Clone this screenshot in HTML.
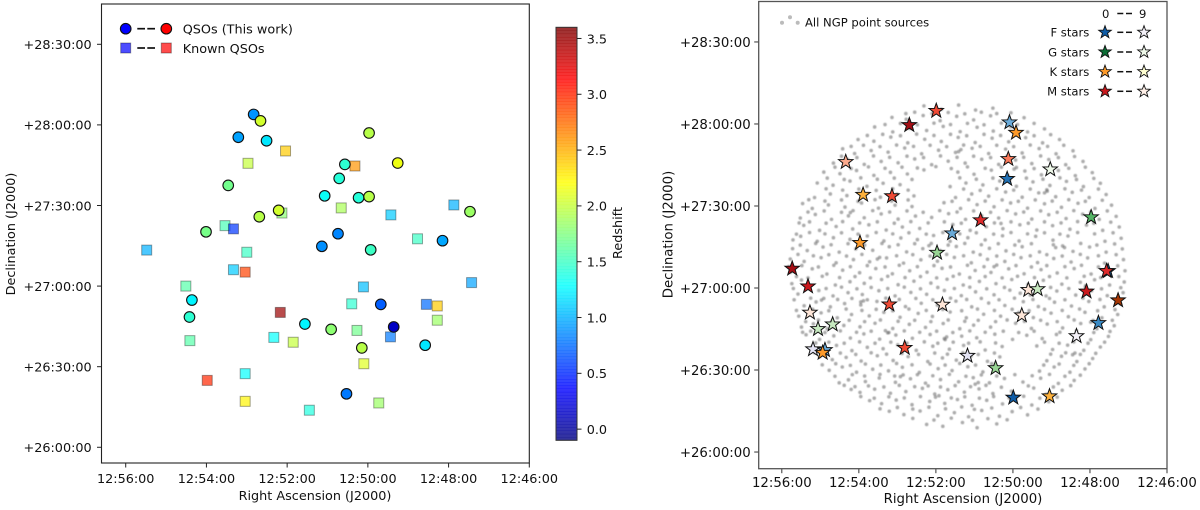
<!DOCTYPE html>
<html>
<head>
<meta charset="utf-8">
<title>QSO and star fields</title>
<style>
html,body{margin:0;padding:0;background:#fff;width:1200px;height:510px;overflow:hidden}
svg{display:block}
text{font-family:"DejaVu Sans","Liberation Sans",sans-serif;fill:#111}
.l{font-size:12.8px}
.r{font-size:13.3px}
.s{font-size:11.6px}
</style>
</head>
<body>
<svg id="figure" width="1200" height="510" viewBox="0 0 1200 510" xmlns="http://www.w3.org/2000/svg">
  <defs><filter id="soft" x="-5%" y="-5%" width="110%" height="110%"><feGaussianBlur stdDeviation="0.45"/></filter></defs>
  <g id="left-ticks"></g>
  <g id="left-squares"></g>
  <g id="left-circles"></g>
  <rect x="101.5" y="4" width="427.8" height="459" fill="none" stroke="#222" stroke-width="1.1"/>
  <text class="l" x="315" y="500" text-anchor="middle">Right Ascension (J2000)</text>
  <text class="l" transform="translate(15,234) rotate(-90)" text-anchor="middle">Declination (J2000)</text>

  <g>
    <circle cx="125.7" cy="28.7" r="5.3" fill="#0000ff" stroke="#111" stroke-width="1.1"/>
    <line x1="137.3" x2="145" y1="28.7" y2="28.7" stroke="#111" stroke-width="1.7"/>
    <line x1="147.3" x2="155" y1="28.7" y2="28.7" stroke="#111" stroke-width="1.7"/>
    <circle cx="166.3" cy="28.7" r="5.3" fill="#ff0000" stroke="#111" stroke-width="1.1"/>
    <text class="l" x="182.7" y="33.5">QSOs (This work)</text>
    <rect x="120.7" y="43" width="10" height="10" fill="#0000ff" fill-opacity=".7" stroke="#000" stroke-opacity=".35"/>
    <line x1="137.3" x2="145" y1="48" y2="48" stroke="#111" stroke-width="1.7"/>
    <line x1="147.3" x2="155" y1="48" y2="48" stroke="#111" stroke-width="1.7"/>
    <rect x="161.3" y="43" width="10" height="10" fill="#ff0000" fill-opacity=".7" stroke="#000" stroke-opacity=".35"/>
    <text class="l" x="182.7" y="52.8">Known QSOs</text>
  </g>

  <g id="colorbar"></g>
  <text class="l" transform="translate(622,233) rotate(-90)" text-anchor="middle">Redshift</text>

  <g id="right-ticks"></g>
  <g id="ngp-points" filter="url(#soft)"></g>
  <g id="stars"></g>
  <rect x="758.7" y="1.5" width="408.3" height="467.2" fill="none" stroke="#555" stroke-width="1.3"/>
  <text class="r" x="963" y="503" text-anchor="middle">Right Ascension (J2000)</text>
  <text class="r" transform="translate(672.5,234.5) rotate(-90)" text-anchor="middle">Declination (J2000)</text>

  <g id="right-legend">
    <circle cx="782" cy="22.7" r="2" fill="#bbb"/>
    <circle cx="790" cy="17.3" r="2" fill="#bbb"/>
    <circle cx="797.7" cy="22.7" r="2" fill="#bbb"/>
    <text class="s" x="805" y="26.5">All NGP point sources</text>
    <text class="s" x="1105.7" y="18" text-anchor="middle">0</text>
    <line x1="1117.3" x2="1123.3" y1="13.5" y2="13.5" stroke="#111" stroke-width="1.5"/>
    <line x1="1126" x2="1132" y1="13.5" y2="13.5" stroke="#111" stroke-width="1.5"/>
    <text class="s" x="1142.7" y="18" text-anchor="middle">9</text>
  </g>
</svg>

<script>
// ---------- Left panel data: [RA minutes after 12h, Dec arcmin above +26 deg, redshift]
const newQsos = [
[52.83,123.9,0.9],[52.66,121.5,2.05],[53.21,115.4,0.95],[52.51,114.1,1.2],[53.46,97.5,1.7],
[51.07,93.6,1.32],[50.71,100.1,1.42],[52.21,88.2,2.05],[52.69,85.8,1.95],[54.01,80.2,1.72],
[51.14,74.8,0.88],[54.36,54.8,1.25],[54.42,48.5,1.45],[51.56,45.9,1.25],[50.91,43.9,1.8],
[49.97,117.0,1.95],[50.57,105.3,1.45],[49.26,105.8,2.15],[50.23,92.9,1.42],[49.97,93.3,1.95],
[47.47,87.7,1.85],[50.74,79.5,0.85],[48.15,76.9,0.97],[49.93,73.5,1.5],[49.68,53.2,0.7],
[49.36,44.8,0.15],[48.58,38.0,1.2],[50.15,37.0,1.95],[50.53,19.9,0.8]
];
const knownQsos = [
[52.04,110.3,2.4],[52.97,105.7,2.0],[52.13,87.2,1.8],[53.54,82.5,1.55],[53.33,81.3,0.55],
[50.66,89.1,1.9],[55.48,73.4,1.0],[53.0,72.6,1.5],[53.33,66.1,1.1],[53.04,65.2,2.9],
[54.51,60.0,1.6],[52.17,50.2,3.5],[52.33,40.9,1.3],[51.85,39.1,2.0],[54.41,39.7,1.6],
[53.98,24.9,3.0],[53.04,27.4,1.3],[53.04,17.1,2.25],[51.45,13.8,1.4],[50.32,104.7,2.6],
[47.87,90.2,1.0],[49.43,86.5,1.1],[48.77,77.6,1.5],[50.11,59.7,1.05],[50.40,53.4,1.45],
[48.55,53.2,0.75],[48.28,52.6,2.4],[47.43,61.3,0.95],[48.28,47.3,1.85],[50.27,43.5,1.7],
[49.44,41.1,0.8],[50.10,31.1,2.1],[49.73,16.5,1.85]
];
const raTicks = [56,54,52,50,48,46];
const raTickLabels = ['12:56:00','12:54:00','12:52:00','12:50:00','12:48:00','12:46:00'];
const decTicks = [150,120,90,60,30,0];
const decTickLabels = ['+28:30:00','+28:00:00','+27:30:00','+27:00:00','+26:30:00','+26:00:00'];
const zTicks = [0,0.5,1,1.5,2,2.5,3,3.5];
const zTickLabels = ['0.0','0.5','1.0','1.5','2.0','2.5','3.0','3.5'];
const zDomain = [-0.1,3.6];

// ---------- Right panel data: [RA min, Dec arcmin, type, subclass]
const starTypes = ['F','G','K','M'];
const stellarSources = [
[51.99,124.8,'M',3],[52.69,119.6,'M',0],[54.34,106.1,'M',6],[53.89,94.1,'K',3],[53.14,93.6,'M',3],
[51.58,80.0,'F',4],[53.97,76.5,'K',2],[51.97,72.9,'G',6],[50.09,120.6,'F',4],[49.92,116.8,'K',2],
[50.12,107.2,'M',5],[50.15,99.9,'F',2],[49.03,103.4,'G',9],[47.97,85.9,'G',4],[50.84,84.8,'M',2],
[55.73,67.1,'M',0],[55.32,60.6,'M',1],[55.27,51.0,'M',8],[55.06,45.0,'G',7],[54.68,46.7,'G',7],
[55.19,37.6,'F',8],[54.88,37.3,'F',4],[54.94,36.3,'K',2],[53.21,54.0,'M',3],[52.81,38.1,'M',3],
[51.83,53.9,'M',8],[51.18,35.2,'F',8],[47.53,66.2,'F',1],[47.57,66.2,'M',2],[48.09,58.7,'M',1],
[47.27,55.5,'K',0],[47.78,47.2,'F',3],[48.35,42.4,'F',9],[49.60,59.3,'M',8],[49.36,59.6,'G',7],
[49.77,50.0,'M',8],[50.45,30.7,'G',6],[49.99,19.9,'F',1],[49.05,20.4,'K',3]
];
const legendTypes = ['F','G','K','M'];
const legendLabels = ['F stars','G stars','K stars','M stars'];
const legendLowSubclass = [1,1,2,1];
const legendHighSubclass = [9,9,9,9];

// Sky positions [RA min, Dec arcmin], estimated from the field's texture
const ngpSources = [
[50.42,10.3],[50.93,8.9],[51.31,10.8],[51.82,9.4],[52.24,10.1],
[49.62,13.6],[50.02,14.8],[50.35,13.1],[50.81,15.2],[51.15,12.9],[51.52,14.4],[51.95,13.3],[52.41,15.0],[52.83,13.7],[53.21,14.9],
[49.07,18.4],[49.51,17.2],[49.93,19.1],[50.27,17.6],[50.68,18.9],[51.06,17.1],[51.44,19.2],[51.77,17.8],[52.16,18.5],[52.62,17.3],[53.03,19.0],[53.41,17.7],[53.72,18.8],
[48.72,22.6],[49.14,21.1],[49.46,23.4],[50.04,22.2],[50.52,21.4],[50.88,23.1],[51.26,21.9],[51.69,22.8],[52.03,21.2],[52.35,23.3],[52.78,22.1],[53.18,21.5],[53.59,23.0],[53.97,21.8],[54.2,22.9],
[48.41,26.2],[48.82,25.1],[49.28,27.0],[49.74,25.6],[50.22,26.9],[50.61,25.3],[51.03,27.2],[51.41,25.7],[51.88,26.5],[52.27,25.2],[52.66,26.8],[53.05,25.5],[53.47,27.1],[53.83,25.8],[54.27,26.4],[54.51,25.3],
[48.13,30.4],[48.52,29.2],[48.93,31.1],[49.31,29.6],[50.44,30.8],[50.78,29.3],[51.17,31.2],[51.58,29.8],[51.94,30.5],[52.43,29.1],[52.87,31.0],[53.23,29.7],[53.64,30.3],[54.06,29.2],[54.43,31.1],[54.77,29.9],
[47.93,34.2],[48.34,33.1],[48.74,35.0],[49.12,33.4],[50.34,34.8],[50.66,33.2],[51.09,35.1],[51.47,33.6],[51.83,34.4],[52.21,33.1],[52.72,34.9],[53.11,33.5],[53.52,35.2],[53.94,33.3],[54.33,34.6],[54.69,33.8],[55.02,34.9],
[47.73,38.4],[48.16,37.2],[48.58,39.1],[48.97,37.5],[49.38,38.8],[50.28,38.6],[50.72,37.3],[51.28,39.0],[51.65,37.6],[52.08,38.7],[52.51,37.2],[52.99,39.2],[53.37,37.8],[53.78,38.3],[54.18,37.1],[54.58,39.0],[54.95,37.9],[55.21,38.6],
[47.52,42.3],[47.98,41.1],[48.87,43.0],[49.24,41.5],[49.64,42.7],[50.01,41.2],[50.47,43.1],[50.94,41.8],[51.33,42.4],[51.76,41.1],[52.15,43.0],[52.61,41.6],[53.04,42.8],[53.46,41.3],[53.87,43.2],[54.22,41.7],[54.65,42.5],[55.02,41.2],[55.37,42.9],
[47.37,46.2],[47.82,45.1],[48.24,47.0],[48.71,45.4],[49.11,46.8],[49.52,45.2],[49.93,47.1],[50.58,45.7],[51.02,46.4],[51.38,45.1],[51.81,47.0],[52.27,45.6],[52.69,46.7],[53.12,45.2],[53.58,47.1],[53.97,45.8],[54.39,46.3],[54.82,45.1],[55.18,46.9],[55.49,45.7],
[47.28,50.3],[47.69,49.1],[48.13,51.1],[48.56,49.5],[49.01,50.8],[49.47,49.2],[49.85,51.0],[50.32,49.7],[50.76,50.4],[51.21,49.1],[51.63,51.2],[52.09,49.6],[52.46,50.7],[52.93,49.3],[53.35,51.1],[53.73,49.8],[54.19,50.3],[54.56,49.1],[54.98,50.9],[55.56,49.7],
[47.21,54.2],[47.63,53.1],[48.03,55.1],[48.48,53.4],[48.92,54.8],[49.34,53.2],[49.73,55.0],[50.21,53.6],[50.63,54.5],[51.07,53.1],[51.48,55.2],[51.96,53.7],[52.38,54.4],[52.79,53.2],[53.53,55.1],[53.95,53.8],[54.37,54.3],[54.74,53.1],[55.11,54.9],[55.42,53.5],
[47.14,58.3],[47.55,57.2],[47.96,59.0],[48.37,57.4],[48.86,58.9],[49.14,57.1],[50.08,59.2],[50.49,57.5],[50.97,58.6],[51.34,57.2],[51.78,59.1],[52.24,57.7],[52.65,58.4],[53.06,57.1],[53.48,59.0],[53.91,57.6],[54.28,58.3],[54.67,57.1],[55.04,59.1],[55.58,57.8],
[47.11,62.2],[47.49,61.1],[47.88,63.0],[48.73,61.4],[49.21,62.8],[49.61,61.2],[50.03,63.1],[50.44,61.6],[50.87,62.4],[51.29,61.1],[51.71,63.2],[52.13,61.8],[52.57,62.5],[52.98,61.2],[53.41,63.1],[53.86,61.7],[54.23,62.3],[54.61,61.1],[55.49,62.9],[55.74,61.6],
[47.09,66.3],[47.97,65.1],[48.41,67.1],[48.85,65.5],[49.27,66.7],[49.71,65.2],[50.11,67.0],[50.57,65.7],[50.98,66.4],[51.39,65.1],[51.84,67.2],[52.23,65.8],[52.68,66.3],[53.13,65.2],[53.56,67.1],[53.98,65.6],[54.42,66.5],[54.83,65.1],[55.21,67.0],[55.77,65.8],
[47.13,70.4],[47.62,69.1],[48.06,71.0],[48.49,69.5],[48.94,70.8],[49.36,69.3],[49.79,71.1],[50.21,69.7],[50.66,70.5],[51.08,69.2],[51.52,71.2],[51.96,69.8],[52.39,70.3],[52.84,69.1],[53.28,71.0],[53.72,69.6],[54.14,70.4],[54.59,69.2],[54.98,71.1],[55.42,69.7],[55.78,70.6],
[47.16,74.3],[47.58,73.1],[48.01,75.0],[48.44,73.4],[48.89,74.8],[49.31,73.2],[49.76,75.1],[50.18,73.6],[50.61,74.5],[51.03,73.1],[51.47,75.2],[51.89,73.7],[52.34,74.4],[52.76,73.2],[53.21,75.1],[53.64,73.8],[54.08,74.3],[54.51,73.1],[54.93,75.0],[55.34,73.7],[55.72,74.4],
[47.19,78.2],[47.61,77.1],[48.57,79.0],[48.96,77.5],[49.41,78.9],[49.84,77.2],[50.27,79.1],[50.72,77.6],[51.17,78.4],[51.63,77.1],[52.06,79.2],[52.48,77.7],[52.91,78.3],[53.35,77.2],[53.78,79.0],[54.23,77.8],[54.66,78.4],[55.08,77.1],[55.51,78.9],[55.71,77.6],
[47.24,82.3],[47.67,81.1],[48.09,83.0],[48.52,81.5],[48.97,82.8],[49.38,81.2],[49.82,83.1],[50.26,81.7],[50.69,82.4],[51.11,81.1],[51.56,83.2],[52.42,81.8],[52.87,82.3],[53.29,81.2],[53.74,83.1],[54.16,81.6],[54.59,82.5],[55.02,81.1],[55.43,82.9],
[47.32,86.2],[47.76,85.1],[48.19,87.0],[48.62,85.4],[49.07,86.8],[49.51,85.2],[49.93,87.1],[50.37,85.6],[50.81,86.4],[51.23,85.1],[51.67,87.2],[52.11,85.8],[52.53,86.3],[52.98,85.2],[53.42,87.1],[53.86,85.7],[54.27,86.4],[54.71,85.1],[55.13,86.9],[55.52,85.6],
[47.44,90.3],[47.87,89.1],[48.31,91.0],[48.74,89.5],[49.18,90.8],[49.62,89.2],[50.06,91.1],[50.49,89.7],[50.93,90.5],[51.36,89.1],[51.79,91.2],[52.62,89.8],[53.06,90.3],[53.49,89.2],[53.93,91.1],[54.36,89.6],[54.79,90.4],[55.21,89.1],[55.46,90.9],
[47.58,94.2],[48.02,93.1],[48.46,95.0],[48.89,93.4],[49.33,94.8],[49.76,93.2],[50.19,95.1],[50.63,93.6],[51.07,94.4],[51.49,93.1],[52.57,93.7],[53.01,94.3],[53.44,93.2],[53.88,95.0],[54.31,93.8],[54.74,94.4],[55.15,93.1],
[47.73,98.3],[48.17,97.1],[48.61,99.0],[49.04,97.5],[49.48,98.8],[49.91,97.2],[50.34,99.1],[50.78,97.7],[51.22,98.4],[51.63,97.1],[52.93,97.8],[53.37,98.3],[53.79,97.2],[54.23,99.1],[54.67,97.6],[55.08,98.4],
[47.94,102.2],[48.38,101.1],[48.82,103.0],[49.26,101.4],[49.69,102.8],[50.13,101.2],[50.56,103.1],[51.01,101.6],[51.43,102.4],[52.31,103.2],[52.74,101.7],[53.18,102.3],[53.61,101.2],[54.06,103.0],[54.49,101.8],[54.91,102.4],
[48.18,106.3],[48.63,105.1],[49.07,107.0],[49.51,105.5],[49.93,106.8],[50.37,105.2],[50.81,107.1],[51.24,105.7],[51.68,106.4],[52.11,105.1],[52.55,107.2],[52.98,105.8],[53.42,106.3],[53.86,105.2],[54.29,107.0],[54.66,105.7],
[48.44,110.2],[48.88,109.1],[49.32,111.0],[49.76,109.4],[50.19,110.8],[50.63,109.2],[51.06,111.1],[51.49,109.6],[51.93,110.4],[52.37,109.1],[52.81,111.2],[53.24,109.7],[53.68,110.3],[54.11,109.2],[54.42,110.9],
[48.79,114.3],[49.23,113.1],[49.67,115.0],[50.11,113.5],[50.54,114.8],[50.98,113.2],[51.42,115.1],[51.86,113.6],[52.29,114.4],[52.73,113.1],[53.17,115.2],[53.61,113.7],[54.02,114.3],
[49.18,118.2],[49.62,117.1],[50.06,119.0],[50.51,117.4],[50.93,118.8],[51.37,117.2],[51.81,119.1],[52.24,117.6],[52.68,118.4],[53.12,117.1],[53.59,118.9],
[49.71,122.3],[50.15,121.1],[50.58,123.0],[51.02,121.5],[51.46,122.8],[51.89,121.2],[52.33,123.1],[52.77,121.7],[53.14,122.4],
[50.52,125.8],[50.97,125.1],[51.41,126.9],[51.86,125.4],[52.31,126.6],
[49.81,58.1],[49.55,57.4],[50.31,83.6],[48.25,62.1],[48.11,60.9],[53.25,43.6],[53.31,44.4],[51.92,20.6],[52.01,20.1],[48.66,74.8],[48.71,75.4],[52.12,76.3],[52.18,75.5],[53.88,55.3],[53.95,54.9],[50.9,25.4],[50.98,24.8],[54.15,88.3],[54.22,87.6],[49.11,95.4],[49.18,94.8],[51.35,110.6],[51.41,109.9],[47.92,48.1],[47.98,47.5],[52.85,28.2],[52.92,27.6],[50.42,68.4],[50.49,67.8],[53.46,71.2],[53.52,70.6],[49.91,104.1],[49.97,103.5],[54.91,56.2],[54.97,55.6],[51.72,42.1],[51.78,41.5],[48.39,36.2],[48.45,35.6]
];
const ngpSourcesMore = [
[50.15,11.8],[50.65,12.2],[51.05,11.6],[51.6,12.4],[52.05,11.7],[52.6,12.3],
[49.35,15.7],[49.8,16.3],[50.55,16.1],[51.0,15.6],[51.33,16.5],[51.75,15.8],[52.18,16.4],[52.6,15.7],[53.0,16.3],[53.45,15.8],
[48.85,20.1],[49.3,19.7],[49.72,20.4],[50.1,19.8],[50.5,20.3],[50.87,19.7],[51.25,20.2],[51.6,19.8],[52.4,20.3],[52.82,19.8],[53.22,20.2],[53.6,19.7],[53.95,20.3],
[48.5,24.3],[48.95,23.8],[49.6,24.2],[50.3,23.7],[50.7,24.4],[51.1,23.9],[51.5,24.3],[51.88,23.8],[52.2,24.2],[52.55,23.9],[52.95,24.4],[53.35,23.8],[53.75,24.2],[54.1,23.9],[54.38,24.4],
[48.25,28.1],[48.65,27.7],[49.05,28.4],[49.5,27.9],[49.95,28.3],[50.42,27.8],[50.82,28.2],[51.22,27.7],[51.65,28.4],[52.08,27.9],[52.48,28.3],[53.07,27.8],[53.45,28.4],[53.85,27.8],[54.17,28.3],[54.62,27.7],
[48.02,32.3],[48.42,31.7],[48.8,32.2],[49.2,31.8],[50.55,32.3],[50.97,31.8],[51.38,32.4],[51.76,31.8],[52.15,32.2],[52.62,31.9],[53.02,32.4],[53.43,31.8],[53.83,32.2],[54.22,31.7],[54.6,32.3],[54.95,31.9],
[47.85,36.1],[48.25,35.7],[48.63,36.3],[49.02,35.8],[50.48,36.2],[50.9,35.7],[51.3,36.3],[51.7,35.8],[52.03,36.2],[52.45,35.7],[52.88,36.1],[53.28,35.8],[53.68,36.3],[54.08,35.7],[54.48,36.2],[54.85,35.8],[55.15,36.3],
[47.62,40.2],[48.05,39.8],[48.42,40.3],[48.8,39.8],[49.18,40.2],[50.45,39.9],[50.85,40.3],[51.15,39.8],[51.55,40.2],[51.95,39.8],[52.3,40.3],[52.75,39.8],[53.17,40.2],[53.58,39.8],[53.98,40.3],[54.38,39.8],[54.78,40.2],[55.12,39.9],
[47.48,44.1],[47.9,43.7],[48.35,44.3],[48.78,43.8],[49.45,44.2],[49.85,43.7],[50.25,44.2],[50.72,43.8],[51.12,44.3],[51.56,43.7],[51.98,44.2],[52.42,43.8],[52.82,44.3],[53.22,43.7],[53.68,44.2],[54.06,43.8],[54.48,44.3],[54.88,43.7],[55.25,44.2],[55.46,43.8],
[47.42,48.2],[47.9,47.8],[48.41,48.3],[48.85,47.7],[49.28,48.2],[49.7,47.8],[50.15,48.3],[50.45,47.7],[50.9,48.2],[51.25,47.8],[51.68,48.3],[52.13,47.7],[52.55,48.2],[52.98,47.8],[53.44,48.3],[53.85,47.7],[54.25,48.2],[54.7,47.8],[55.05,48.3],[55.38,47.7],
[47.35,52.1],[47.8,51.7],[48.27,52.3],[48.72,51.8],[49.18,52.2],[49.58,51.7],[50.02,52.2],[50.48,51.8],[50.92,52.3],[51.33,51.7],[51.82,52.2],[52.25,51.8],[52.7,52.3],[53.12,51.7],[53.55,52.2],[53.92,51.8],[54.33,52.3],[54.78,51.7],[55.2,52.2],[55.62,51.8],
[47.28,56.2],[47.74,55.8],[48.18,56.3],[48.65,55.7],[49.05,56.2],[49.48,55.8],[49.96,56.3],[50.36,55.7],[50.82,56.2],[51.2,55.8],[51.62,56.3],[52.08,55.7],[52.52,56.2],[52.95,55.8],[53.3,56.3],[53.78,55.7],[54.18,56.2],[54.55,55.8],[55.25,56.3],[55.68,55.7],
[47.2,60.1],[47.7,59.7],[48.12,60.3],[48.55,59.8],[49.02,60.2],[49.42,59.8],[50.22,60.2],[50.68,59.7],[51.12,60.3],[51.52,59.8],[51.95,60.2],[52.4,59.7],[52.82,60.3],[53.25,59.8],[53.68,60.2],[54.05,59.7],[54.45,60.3],[54.85,59.8],[55.28,60.2],[55.7,59.8],
[47.25,64.2],[47.72,63.8],[48.15,64.3],[48.6,63.7],[49.05,64.2],[49.44,63.8],[49.88,64.3],[50.28,63.7],[50.72,64.2],[51.12,63.8],[51.55,64.3],[51.98,63.7],[52.4,64.2],[52.8,63.8],[53.25,64.3],[53.7,63.7],[54.1,64.2],[54.5,63.8],[54.95,64.3],[55.32,63.7],[55.62,64.2],
[47.28,68.1],[47.78,67.7],[48.22,68.3],[48.65,67.8],[49.12,68.2],[49.52,67.7],[49.92,68.2],[50.75,67.8],[51.18,68.3],[51.62,67.7],[52.05,68.2],[52.48,67.8],[52.95,68.3],[53.32,67.7],[53.78,68.2],[54.22,67.8],[54.65,68.3],[55.05,67.7],[55.48,68.2],[55.82,67.8],
[47.32,72.2],[47.78,71.8],[48.25,72.3],[48.72,71.7],[49.12,72.2],[49.55,71.8],[49.98,72.3],[50.42,71.7],[50.85,72.2],[51.28,71.8],[51.72,72.3],[52.15,71.7],[52.6,72.2],[53.02,71.8],[53.92,72.3],[54.32,71.7],[54.78,72.2],[55.18,71.8],[55.58,72.3],
[47.36,76.1],[47.82,75.7],[48.24,76.3],[48.95,75.8],[49.52,76.2],[49.95,75.7],[50.38,76.2],[50.82,75.8],[51.25,76.3],[51.68,75.7],[52.55,76.2],[52.98,75.8],[53.4,76.3],[53.85,75.7],[54.28,76.2],[54.72,75.8],[55.12,76.3],[55.52,75.7],
[47.4,80.2],[47.88,79.8],[48.32,80.3],[48.78,79.7],[49.18,80.2],[49.62,79.8],[50.05,80.3],[50.5,79.7],[50.95,80.2],[51.38,79.8],[51.82,80.3],[52.25,79.7],[52.7,80.2],[53.12,79.8],[53.55,80.3],[54.02,79.7],[54.45,80.2],[54.88,79.8],[55.28,80.3],[55.62,79.7],
[47.46,84.1],[47.9,83.7],[48.32,84.3],[48.75,83.8],[49.18,84.2],[49.6,83.7],[50.05,84.2],[50.48,83.8],[50.9,84.3],[51.34,83.7],[51.78,84.2],[52.2,83.8],[52.65,84.3],[53.08,83.7],[53.52,84.2],[53.98,83.8],[54.42,84.3],[54.85,83.7],[55.28,84.2],[55.55,83.8],
[47.55,88.2],[47.98,87.8],[48.42,88.3],[48.85,87.7],[49.28,88.2],[49.72,87.8],[50.15,88.3],[50.58,87.7],[51.02,88.2],[51.45,87.8],[51.9,88.3],[52.33,87.7],[52.75,88.2],[53.2,87.8],[53.64,88.3],[54.45,87.7],[54.9,88.2],[55.32,87.8],
[47.68,92.1],[48.12,91.7],[48.55,92.3],[48.98,91.8],[49.42,92.2],[49.86,91.7],[50.28,92.2],[50.72,91.8],[51.15,92.3],[51.58,91.7],[52.72,92.2],[53.15,91.8],[53.58,92.3],[54.02,91.7],[54.45,92.2],[54.88,91.8],[55.3,92.3],
[47.78,96.2],[48.22,95.8],[48.65,96.3],[49.12,95.9],[49.55,96.2],[49.98,95.8],[50.42,96.3],[50.85,95.7],[51.28,96.2],[52.72,95.8],[53.12,96.3],[53.55,95.7],[54.0,96.2],[54.42,95.8],[54.85,96.3],
[47.9,100.1],[48.35,99.7],[48.78,100.3],[49.22,99.8],[49.65,100.2],[50.08,99.7],[50.52,100.2],[50.95,99.8],[51.38,100.3],[52.62,99.7],[53.08,100.2],[53.52,99.8],[53.95,100.3],[54.38,99.7],[54.82,100.2],
[48.12,104.2],[48.55,103.8],[49.02,104.3],[49.45,103.7],[50.3,104.2],[50.72,103.8],[51.18,104.3],[51.6,103.7],[52.0,104.4],[52.48,103.9],[52.88,104.2],[53.32,103.8],[53.75,104.3],[54.2,103.7],[54.62,104.2],
[48.4,108.1],[48.82,107.7],[49.28,108.3],[49.72,107.8],[50.15,108.2],[50.58,107.7],[51.02,108.2],[51.45,107.8],[51.88,108.3],[52.32,107.7],[52.75,108.2],[53.2,107.8],[53.62,108.3],[54.05,107.7],[54.45,108.2],
[48.68,112.2],[49.1,111.8],[49.55,112.3],[49.98,111.7],[50.42,112.2],[50.85,111.8],[51.28,112.3],[51.72,111.7],[52.15,112.2],[52.58,111.8],[53.02,112.3],[53.45,111.7],[53.88,112.2],[54.2,111.8],
[49.02,116.1],[49.45,115.7],[49.88,116.3],[50.32,115.8],[50.75,116.2],[51.2,115.7],[51.62,116.2],[52.05,115.8],[52.5,116.3],[52.92,115.7],[53.38,116.2],[53.78,115.8],
[49.45,120.2],[49.88,119.8],[50.3,120.3],[50.75,119.7],[51.18,120.2],[51.62,119.8],[52.05,120.3],[52.48,119.7],[52.92,120.2],[53.32,119.8],
[50.05,124.1],[50.42,123.8],[50.82,124.3],[51.25,123.7],[51.68,124.2],[52.1,123.8],[52.55,124.3],[52.78,123.8]
];

// ---------- Helpers
const NS = 'http://www.w3.org/2000/svg';
function make(tag, attrs, parent, txt) {
  const el = document.createElementNS(NS, tag);
  for (const k in attrs) el.setAttribute(k, attrs[k]);
  if (txt !== undefined) el.textContent = txt;
  parent.appendChild(el);
  return el;
}
function linear(d, r) {
  return v => r[0] + (v - d[0]) * (r[1] - r[0]) / (d[1] - d[0]);
}
function clip(v) { return Math.max(0, Math.min(1, v)); }
function jet(t) {
  const r = clip(1.5 - Math.abs(4 * t - 3));
  const g = clip(1.5 - Math.abs(4 * t - 2));
  const b = clip(1.5 - Math.abs(4 * t - 1));
  return 'rgb(' + Math.round(r * 255) + ',' + Math.round(g * 255) + ',' + Math.round(b * 255) + ')';
}
const zNorm = z => (z - zDomain[0]) / (zDomain[1] - zDomain[0]);

const xL = linear([56.6, 46], [101.5, 529.3]);
const yL = linear([-5.85, 165], [463, 4]);
const xR = linear([56.6, 46], [758.7, 1167]);
const yR = linear([-6.1, 164.8], [468.7, 1.5]);
const yZ = linear(zDomain, [440.3, 27.3]);

function drawAxisTicks(host, xs, ys, bottom, left, xLabelY, yLabelX, cls, color) {
  raTicks.forEach((v, i) => {
    const tick = make('line', {x1: xs(v), x2: xs(v), y1: bottom, y2: bottom + 4.5, stroke: color, 'stroke-width': 1}, host);
    
    
    const lab = make('text', {x: xs(v), y: xLabelY, 'text-anchor': 'middle', class: cls}, host, raTickLabels[i]);
    
    
  });
  decTicks.forEach((v, i) => {
    const tick = make('line', {x1: left - 4.5, x2: left, y1: ys(v), y2: ys(v), stroke: color, 'stroke-width': 1}, host);
    
    
    const lab = make('text', {x: yLabelX, y: ys(v) + 4.8, 'text-anchor': 'end', class: cls}, host, decTickLabels[i]);
    
    
  });
}

// ---------- Left panel
drawAxisTicks(document.getElementById('left-ticks'), xL, yL, 463, 101.5, 483, 91.7, 'l', '#222');

const squaresHost = document.getElementById('left-squares');
knownQsos.forEach(p => {
  const sq = make('rect', {x: xL(p[0]) - 5, y: yL(p[1]) - 5, width: 10, height: 10, fill: jet(zNorm(p[2])), 'fill-opacity': 0.7, stroke: '#000', 'stroke-opacity': 0.35, 'stroke-width': 1}, squaresHost);
  
  
});

const circlesHost = document.getElementById('left-circles');
newQsos.forEach(p => {
  const c = make('circle', {cx: xL(p[0]), cy: yL(p[1]), r: 5.3, fill: jet(zNorm(p[2])), stroke: '#111', 'stroke-width': 1.1}, circlesHost);
  
  
});

// ---------- Colorbar
const cbHost = document.getElementById('colorbar');
const cbSteps = 128;
for (let i = 0; i < cbSteps; i++) {
  const z0 = zDomain[0] + (zDomain[1] - zDomain[0]) * i / cbSteps;
  const z1 = zDomain[0] + (zDomain[1] - zDomain[0]) * (i + 1) / cbSteps;
  const band = make('rect', {x: 556, y: yZ(z1), width: 21, height: yZ(z0) - yZ(z1) + 0.3, fill: jet((i + 0.5) / cbSteps), 'fill-opacity': 0.8}, cbHost);
  
  
}
const cbFrame = make('rect', {x: 556, y: 27.3, width: 21, height: 413, fill: 'none', stroke: '#333', 'stroke-width': 1}, cbHost);


zTicks.forEach((v, i) => {
  const t = make('line', {x1: 577, x2: 581.5, y1: yZ(v), y2: yZ(v), stroke: '#222', 'stroke-width': 1}, cbHost);
  
  
  const lab = make('text', {x: 586.7, y: yZ(v) + 4.8, class: 'l'}, cbHost, zTickLabels[i]);
  
  
});

// ---------- Right panel
drawAxisTicks(document.getElementById('right-ticks'), xR, yR, 468.7, 758.7, 487, 750.7, 'r', '#333');

const ngpHost = document.getElementById('ngp-points');
ngpSources.concat(ngpSourcesMore).forEach(p => {
  const d = make('circle', {cx: xR(p[0]), cy: yR(p[1]), r: 1.8, fill: '#666', 'fill-opacity': 0.55}, ngpHost);
  
  
});

const starPalette = {
  F: ['#08478f','#0f5ca6','#2171b5','#3a8ac4','#6aaad8','#8fbfe0','#b4d3e9','#cfdff0','#e4e4f4','#f4f1f8'],
  G: ['#00602c','#0b6e35','#238b45','#3fa85b','#55b566','#7ac97a','#98d594','#c7e9c0','#dff2d8','#eff9ea'],
  K: ['#a63603','#ec7a18','#fd9a2a','#fdb13c','#fec44f','#fed368','#fee08b','#fff0b0','#fff7c4','#ffffd2'],
  M: ['#a50f15','#c9181d','#dd2a2b','#ef4a35','#f6664a','#fb7a5a','#fcaa8d','#fdc9b0','#fee6d8','#fff0e8']
};
function starPoints(cx, cy, R, rInner) {
  const pts = [];
  for (let i = 0; i < 10; i++) {
    const a = -Math.PI / 2 + i * Math.PI / 5;
    const rad = i % 2 === 0 ? R : rInner;
    pts.push((cx + rad * Math.cos(a)).toFixed(2) + ',' + (cy + rad * Math.sin(a)).toFixed(2));
  }
  return pts.join(' ');
}
const starsHost = document.getElementById('stars');
stellarSources.forEach(p => {
  const s = make('polygon', {points: starPoints(xR(p[0]), yR(p[1]), 7.6, 3.1), fill: starPalette[p[2]][p[3]], stroke: '#111', 'stroke-width': 1}, starsHost);
  
  
});

// ---------- Right legend rows
const rLegend = document.getElementById('right-legend');
const rowY = [32.3, 52, 71.7, 91.3];
legendTypes.forEach((t, i) => {
  const lab = make('text', {x: 1089.3, y: rowY[i] + 4.3, 'text-anchor': 'end', class: 's'}, rLegend, legendLabels[i]);
  
  
  const lo = make('polygon', {points: starPoints(1105, rowY[i], 6.6, 2.7), fill: starPalette[t][legendLowSubclass[i]], stroke: '#111', 'stroke-width': 0.9}, rLegend);
  
  
  const d1 = make('line', {x1: 1117.3, x2: 1123.3, y1: rowY[i], y2: rowY[i], stroke: '#111', 'stroke-width': 1.5}, rLegend);
  
  
  const d2 = make('line', {x1: 1126, x2: 1132, y1: rowY[i], y2: rowY[i], stroke: '#111', 'stroke-width': 1.5}, rLegend);
  
  
  const hi = make('polygon', {points: starPoints(1144, rowY[i], 6.6, 2.7), fill: starPalette[t][legendHighSubclass[i]], stroke: '#111', 'stroke-width': 0.9}, rLegend);
  
  
});
</script>
</body>
</html>
